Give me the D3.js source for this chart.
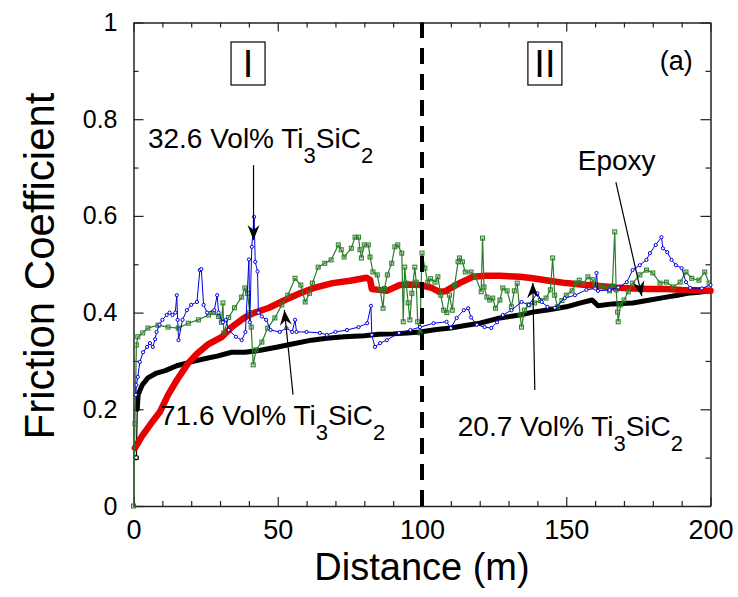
<!DOCTYPE html>
<html>
<head>
<meta charset="utf-8">
<script src="https://cdn.jsdelivr.net/npm/d3@7/dist/d3.min.js"></script>
<style>
  html, body { margin: 0; padding: 0; background: #fff; }
  svg { display: block; }
  text { font-family: "Liberation Sans", Arial, sans-serif; fill: #000; }
</style>
</head>
<body>
<svg id="chart" width="738" height="597"></svg>
<script>
// ---------------- data (distance in m, friction coefficient) ----------------
const xTicks = [0, 50, 100, 150, 200];
const yTicks = [0, 0.2, 0.4, 0.6, 0.8, 1];
const yTickLabels = ["0", "0.2", "0.4", "0.6", "0.8", "1"];

const epoxyBlack = [[1,0.10],[1.3,0.20],[1.6,0.23],[3,0.25],[5,0.265],[8,0.275],[11,0.28],[15,0.29],[20,0.298],[25,0.305],[29,0.31],[34,0.318],[38.6,0.318],[44,0.322],[50,0.329],[55,0.335],[61.7,0.343],[67,0.347],[73,0.35],[80,0.352],[85,0.355],[90,0.356],[95,0.358],[99.3,0.36],[105,0.365],[110,0.368],[115.5,0.374],[120,0.378],[127,0.389],[134,0.395],[138.4,0.401],[144,0.406],[150,0.412],[155,0.42],[159,0.426],[161,0.414],[166,0.418],[173,0.42],[178,0.425],[184.7,0.432],[188.6,0.436],[192,0.44],[196,0.442],[200,0.445]];

const redSeries = [[0.5,0.12],[3,0.145],[6,0.17],[9.2,0.195],[12,0.23],[15,0.26],[18.9,0.295],[22,0.315],[26,0.335],[30.7,0.35],[34,0.37],[38.6,0.39],[42,0.40],[47,0.41],[52.5,0.426],[57.7,0.44],[62,0.45],[66.3,0.457],[69,0.461],[75,0.466],[80.8,0.472],[82,0.468],[82.6,0.449],[85,0.447],[87.8,0.445],[92.3,0.457],[96,0.458],[99.3,0.457],[103,0.452],[106,0.443],[108,0.444],[113,0.461],[117.6,0.474],[122,0.476],[127,0.476],[134,0.474],[138.4,0.471],[144,0.466],[150,0.461],[155,0.458],[161.6,0.455],[167,0.452],[173,0.45],[179,0.449],[184.7,0.449],[190,0.447],[195,0.446],[200,0.445]];

const blueSeries = [[0.8,0.23],[1.0,0.25],[1.5,0.267],[2.2,0.298],[3.3,0.318],[4.7,0.329],[5.7,0.337],[6.7,0.329],[7.5,0.345],[8,0.36],[9,0.375],[10,0.385],[11.5,0.395],[12.5,0.40],[13.5,0.395],[14.5,0.40],[15,0.436],[15.3,0.385],[15.6,0.343],[17,0.385],[18.5,0.405],[20,0.416],[22,0.422],[23,0.488],[23.5,0.49],[24.3,0.416],[25.5,0.40],[28,0.405],[29,0.436],[29.5,0.40],[31,0.38],[32,0.385],[33,0.364],[35.5,0.35],[37.5,0.343],[38.8,0.36],[40,0.51],[40.3,0.38],[41,0.536],[41.8,0.598],[42.2,0.505],[43,0.485],[43.3,0.40],[44.5,0.392],[46,0.385],[47.5,0.364],[50.7,0.36],[53,0.368],[55,0.36],[56,0.385],[56.5,0.36],[60,0.36],[64.6,0.358],[67,0.354],[70,0.36],[74,0.364],[78,0.37],[81,0.378],[82.3,0.414],[82.6,0.354],[83.7,0.329],[85.5,0.337],[87.8,0.343],[92,0.358],[96,0.364],[99.3,0.37],[104,0.378],[108.5,0.381],[110,0.368],[112,0.389],[114.5,0.405],[116,0.409],[117,0.39],[119,0.375],[121.7,0.37],[124,0.368],[126,0.38],[128,0.395],[131,0.405],[134.5,0.422],[137,0.416],[140,0.44],[141.5,0.422],[143.5,0.412],[146,0.41],[149.5,0.43],[153,0.436],[157,0.447],[160,0.45],[160.5,0.482],[161,0.445],[165,0.447],[168,0.452],[171,0.463],[173,0.488],[175.5,0.498],[177.8,0.509],[179,0.523],[181,0.54],[183,0.556],[183.5,0.533],[185,0.525],[186.5,0.509],[188,0.498],[190,0.492],[191.5,0.463],[193,0.451],[197,0.45],[200,0.457]];

const greenSeries = [[0,0],[0.5,0.17],[1,0.333],[1.5,0.35],[3.2,0.358],[5,0.368],[8.5,0.374],[12,0.37],[15.5,0.368],[19,0.378],[22.5,0.385],[26,0.395],[27.7,0.40],[29.5,0.392],[30.5,0.38],[31,0.42],[31.3,0.358],[33,0.39],[35,0.41],[37.5,0.432],[38.6,0.451],[39.5,0.44],[40.3,0.40],[40.8,0.37],[41.5,0.292],[42.5,0.323],[44.5,0.339],[46.5,0.368],[49,0.389],[51.4,0.416],[53.5,0.436],[56,0.471],[58,0.457],[59.5,0.422],[61,0.44],[62,0.461],[64,0.494],[66.3,0.502],[68.5,0.509],[71,0.54],[72,0.53],[73,0.515],[75.5,0.533],[76.8,0.556],[78,0.556],[78.5,0.53],[79,0.513],[80,0.54],[81.4,0.54],[82,0.515],[83,0.484],[84.5,0.478],[85.5,0.447],[86.5,0.409],[87,0.45],[88,0.478],[89.5,0.502],[90.6,0.536],[91.6,0.54],[93,0.523],[93.5,0.381],[94,0.494],[94.5,0.461],[95.2,0.42],[95.8,0.385],[96.5,0.44],[97.5,0.494],[98,0.463],[98.5,0.381],[99.3,0.358],[100,0.523],[101,0.492],[102,0.463],[103,0.47],[104.5,0.463],[105.5,0.474],[106.5,0.436],[107.5,0.405],[108.6,0.40],[109.5,0.436],[110.5,0.405],[111.3,0.457],[112.5,0.505],[113,0.513],[114,0.505],[115,0.484],[117,0.484],[118.5,0.475],[120.5,0.443],[121,0.554],[121.5,0.453],[122.5,0.432],[123.5,0.426],[124.5,0.43],[125.5,0.409],[127,0.426],[128,0.451],[129.5,0.445],[131,0.412],[132,0.445],[133,0.461],[134,0.395],[134.5,0.37],[135.5,0.405],[137,0.416],[139,0.42],[141,0.425],[143,0.43],[144.5,0.447],[145.3,0.513],[146,0.436],[147,0.412],[148.5,0.425],[150,0.436],[152,0.445],[153.5,0.461],[154.5,0.467],[156,0.46],[157.5,0.474],[159,0.468],[160,0.457],[162,0.455],[164,0.451],[165,0.445],[166,0.455],[166.8,0.567],[167.3,0.447],[167.8,0.401],[168,0.381],[168.8,0.416],[170,0.426],[171.5,0.443],[173,0.461],[175.5,0.478],[177.8,0.488],[180,0.482],[182.5,0.461],[184.7,0.463],[187,0.453],[189.5,0.463],[191.5,0.484],[193.5,0.471],[196,0.467],[198,0.484],[199.5,0.461]];

const regionDivider = 100;

// ---------------- layout ----------------
const W = 738, H = 597;
const L = 133.5, R = 710.5, T = 22.5, B = 506;
const svg = d3.select("#chart");
svg.append("rect").attr("width", W).attr("height", H).attr("fill", "#fff");

const x = d3.scaleLinear().domain([0, 200]).range([L, R]);
const y = d3.scaleLinear().domain([0, 1]).range([B, T]);

const xMinor = d3.range(0, 201, 10).filter(v => v % 50 !== 0);
const yMinor = d3.range(1, 10, 2).map(v => v / 10);

const axisColor = "#222";
function styleAxis(g) {
  g.selectAll("path.domain").attr("stroke", axisColor).attr("stroke-width", 1.5);
  g.selectAll(".tick line").attr("stroke", axisColor).attr("stroke-width", 1.2);
}

// bottom
svg.append("g").attr("transform", `translate(0,${B})`)
  .call(d3.axisBottom(x).tickValues(xTicks).tickSizeInner(-9).tickSizeOuter(0).tickPadding(14).tickFormat(d3.format("d")))
  .call(styleAxis)
  .call(g => g.selectAll("text").attr("font-size", 27).attr("font-family", "Liberation Sans, Arial, sans-serif").attr("fill", "#000"));
svg.append("g").attr("transform", `translate(0,${B})`)
  .call(d3.axisBottom(x).tickValues(xMinor).tickSizeInner(-5).tickSizeOuter(0).tickFormat(""))
  .call(styleAxis).call(g => g.select("path.domain").remove());
// top
svg.append("g").attr("transform", `translate(0,${T})`)
  .call(d3.axisTop(x).tickValues(xTicks).tickSizeInner(-9).tickSizeOuter(0).tickFormat(""))
  .call(styleAxis);
svg.append("g").attr("transform", `translate(0,${T})`)
  .call(d3.axisTop(x).tickValues(xMinor).tickSizeInner(-5).tickSizeOuter(0).tickFormat(""))
  .call(styleAxis).call(g => g.select("path.domain").remove());
// left
svg.append("g").attr("transform", `translate(${L},0)`)
  .call(d3.axisLeft(y).tickValues(yTicks).tickSizeInner(-10).tickSizeOuter(0).tickPadding(16).tickFormat((d, i) => yTickLabels[i]))
  .call(styleAxis)
  .call(g => g.selectAll("text").attr("font-size", 25).attr("font-family", "Liberation Sans, Arial, sans-serif").attr("fill", "#000"));
svg.append("g").attr("transform", `translate(${L},0)`)
  .call(d3.axisLeft(y).tickValues(yMinor).tickSizeInner(-5).tickSizeOuter(0).tickFormat(""))
  .call(styleAxis).call(g => g.select("path.domain").remove());
// right
svg.append("g").attr("transform", `translate(${R},0)`)
  .call(d3.axisRight(y).tickValues(yTicks).tickSizeInner(-10).tickSizeOuter(0).tickFormat(""))
  .call(styleAxis);
svg.append("g").attr("transform", `translate(${R},0)`)
  .call(d3.axisRight(y).tickValues(yMinor).tickSizeInner(-5).tickSizeOuter(0).tickFormat(""))
  .call(styleAxis).call(g => g.select("path.domain").remove());

// axis titles
svg.append("text").attr("x", (L + R) / 2).attr("y", 580).attr("text-anchor", "middle")
  .attr("font-size", 38).text("Distance (m)");
svg.append("text").attr("transform", `translate(54,266) rotate(-90)`).attr("text-anchor", "middle")
  .attr("font-size", 42).text("Friction Coefficient");

// ---------------- series ----------------
const line = d3.line().x(d => x(d[0])).y(d => y(d[1]));
const plot = svg.append("g");

plot.append("path").datum(epoxyBlack.slice(0, 2)).attr("d", line).attr("fill", "none")
  .attr("stroke", "#000").attr("stroke-width", 1.2);
plot.append("path").datum(epoxyBlack.slice(1)).attr("d", line).attr("fill", "none")
  .attr("stroke", "#000").attr("stroke-width", 5).attr("stroke-linejoin", "round").attr("stroke-linecap", "round");
plot.append("circle").attr("cx", x(epoxyBlack[0][0])).attr("cy", y(epoxyBlack[0][1])).attr("r", 2)
  .attr("fill", "#fff").attr("stroke", "#000").attr("stroke-width", 1.2);

plot.append("path").datum(redSeries).attr("d", line).attr("fill", "none")
  .attr("stroke", "#e80000").attr("stroke-width", 6.5).attr("stroke-linejoin", "round").attr("stroke-linecap", "round");

const green = "#2b7d2b";
plot.append("path").datum(greenSeries).attr("d", line).attr("fill", "none")
  .attr("stroke", green).attr("stroke-width", 1.2);
plot.append("g").selectAll("rect").data(greenSeries).join("rect")
  .attr("x", d => x(d[0]) - 2).attr("y", d => y(d[1]) - 2).attr("width", 4).attr("height", 4)
  .attr("fill", "rgba(60,140,60,0.25)").attr("stroke", green).attr("stroke-width", 1);

const blue = "#0000e0";
plot.append("path").datum(blueSeries).attr("d", line).attr("fill", "none")
  .attr("stroke", blue).attr("stroke-width", 1);
plot.append("g").selectAll("circle").data(blueSeries).join("circle")
  .attr("cx", d => x(d[0])).attr("cy", d => y(d[1])).attr("r", 1.6)
  .attr("fill", "#fff").attr("stroke", blue).attr("stroke-width", 1);

// region divider
svg.append("line").attr("x1", x(regionDivider)).attr("x2", x(regionDivider))
  .attr("y1", y(0)).attr("y2", y(1))
  .attr("stroke", "#000").attr("stroke-width", 4).attr("stroke-dasharray", "16,10");

// ---------------- annotations ----------------
const defs = svg.append("defs");
defs.append("marker").attr("id", "ah").attr("viewBox", "-16 -7 18 14")
  .attr("refX", 0).attr("refY", 0).attr("markerWidth", 18).attr("markerHeight", 14)
  .attr("markerUnits", "userSpaceOnUse").attr("orient", "auto")
  .append("path").attr("d", "M0,0 L-15,-6 L-10,0 L-15,6 Z").attr("fill", "#000");

function arrow(x0, y0, x1, y1) {
  svg.append("line").attr("x1", x(x0)).attr("y1", y(y0)).attr("x2", x(x1)).attr("y2", y(y1))
    .attr("stroke", "#000").attr("stroke-width", 1.2).attr("marker-end", "url(#ah)");
}
arrow(41.6, 0.705, 41.6, 0.55);
arrow(55.3, 0.23, 52.3, 0.405);
arrow(139.1, 0.24, 138.4, 0.461);
arrow(167.2, 0.67, 176.2, 0.434);

function formulaLabel(xv, yv, prefix) {
  const t = svg.append("text").attr("x", x(xv)).attr("y", y(yv)).attr("font-size", 28);
  t.append("tspan").text(prefix + " Ti");
  t.append("tspan").attr("font-size", 22).attr("dy", 15).text("3");
  t.append("tspan").attr("dy", -15).text("SiC");
  t.append("tspan").attr("font-size", 22).attr("dy", 15).text("2");
}
formulaLabel(5.0, 0.74, "32.6 Vol%");
formulaLabel(9.2, 0.1675, "71.6 Vol%");
formulaLabel(112.4, 0.145, "20.7 Vol%");
svg.append("text").attr("x", x(154)).attr("y", y(0.695)).attr("font-size", 28).text("Epoxy");
svg.append("text").attr("x", x(182.4)).attr("y", y(0.902)).attr("font-size", 27).text("(a)");

function regionBox(xc, label) {
  const cx = x(xc);
  svg.append("rect").attr("x", cx - 17).attr("y", 42).attr("width", 34).attr("height", 43)
    .attr("fill", "none").attr("stroke", "#000").attr("stroke-width", 1.2);
  svg.append("text").attr("x", cx).attr("y", 77).attr("text-anchor", "middle")
    .attr("font-size", 38).text(label);
}
regionBox(39.7, "I");
regionBox(142.6, "II");
</script>
</body>
</html>
